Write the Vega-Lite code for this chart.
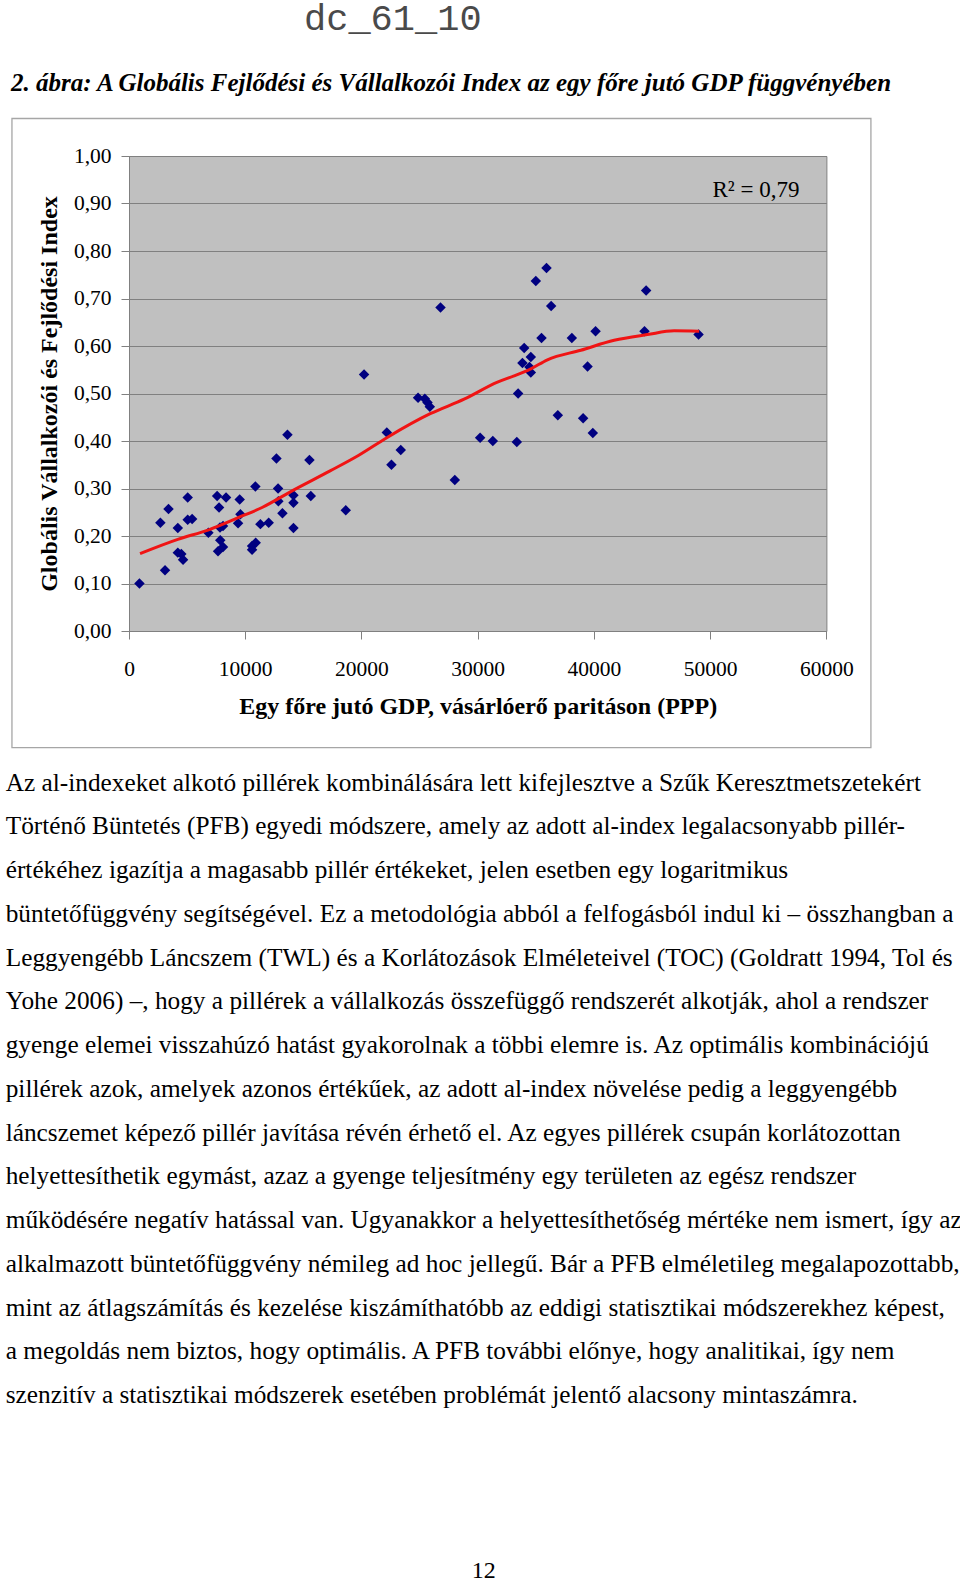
{
  "$schema": "https://vega.github.io/schema/vega-lite/v6.json",
  "background": "white",
  "padding": {"left": 5, "top": 0, "right": 0, "bottom": 0},
  "config": {
    "locale": {"number": {"decimal": ",", "thousands": " ", "grouping": [3], "currency": ["", " Ft"]}},
    "font": "Liberation Serif",
    "view": {"stroke": null}
  },
  "title": {
    "text": "dc_61_10", "font": "Liberation Mono", "fontSize": 37, "fontWeight": "normal",
    "color": "#4a4a4a", "anchor": "start", "frame": "group", "dx": 175, "offset": 3, "baseline": "alphabetic"
  },
  "columns": 1,
  "align": "none",
  "spacing": 21.5,
  "concat": [
    {
      "width": 697.4,
      "height": 475,
      "title": {
        "text": "2. ábra: A Globális Fejlődési és Vállalkozói Index az egy főre jutó GDP függvényében",
        "font": "Liberation Serif", "fontSize": 25, "fontStyle": "italic", "fontWeight": "bold",
        "color": "black", "anchor": "start", "frame": "group", "dx": -118, "offset": 2, "baseline": "alphabetic"
      },
      "view": {"fill": "#c0c0c0", "stroke": "#808080", "strokeWidth": 1},
      "layer": [
        {
          "data": {"values": [
            {"gdp": 900, "idx": 0.100}, {"gdp": 3100, "idx": 0.128}, {"gdp": 2700, "idx": 0.228},
            {"gdp": 3400, "idx": 0.257}, {"gdp": 4200, "idx": 0.217}, {"gdp": 5050, "idx": 0.281},
            {"gdp": 5050, "idx": 0.234}, {"gdp": 5430, "idx": 0.236}, {"gdp": 4200, "idx": 0.165},
            {"gdp": 4500, "idx": 0.162}, {"gdp": 4650, "idx": 0.150}, {"gdp": 6830, "idx": 0.207},
            {"gdp": 7580, "idx": 0.284}, {"gdp": 8350, "idx": 0.281}, {"gdp": 7750, "idx": 0.260},
            {"gdp": 7830, "idx": 0.218}, {"gdp": 8090, "idx": 0.221}, {"gdp": 7850, "idx": 0.191},
            {"gdp": 7660, "idx": 0.168}, {"gdp": 8090, "idx": 0.177}, {"gdp": 9525, "idx": 0.277},
            {"gdp": 9585, "idx": 0.246}, {"gdp": 9385, "idx": 0.227}, {"gdp": 10875, "idx": 0.304},
            {"gdp": 10590, "idx": 0.179}, {"gdp": 10900, "idx": 0.186}, {"gdp": 10590, "idx": 0.171},
            {"gdp": 11305, "idx": 0.225}, {"gdp": 12020, "idx": 0.228}, {"gdp": 12685, "idx": 0.363},
            {"gdp": 13630, "idx": 0.413}, {"gdp": 12825, "idx": 0.300}, {"gdp": 12850, "idx": 0.273},
            {"gdp": 13200, "idx": 0.248}, {"gdp": 14150, "idx": 0.286}, {"gdp": 14150, "idx": 0.270},
            {"gdp": 14150, "idx": 0.217}, {"gdp": 15525, "idx": 0.360}, {"gdp": 15640, "idx": 0.284},
            {"gdp": 18650, "idx": 0.254}, {"gdp": 20225, "idx": 0.540}, {"gdp": 22180, "idx": 0.418},
            {"gdp": 23380, "idx": 0.381}, {"gdp": 22580, "idx": 0.350}, {"gdp": 24870, "idx": 0.491},
            {"gdp": 25450, "idx": 0.489}, {"gdp": 25680, "idx": 0.481}, {"gdp": 25880, "idx": 0.472},
            {"gdp": 26800, "idx": 0.681}, {"gdp": 28030, "idx": 0.318}, {"gdp": 30210, "idx": 0.407},
            {"gdp": 31300, "idx": 0.400}, {"gdp": 33365, "idx": 0.398}, {"gdp": 33480, "idx": 0.500},
            {"gdp": 34000, "idx": 0.596}, {"gdp": 33850, "idx": 0.564}, {"gdp": 34570, "idx": 0.577},
            {"gdp": 34450, "idx": 0.556}, {"gdp": 34570, "idx": 0.544}, {"gdp": 35000, "idx": 0.737},
            {"gdp": 35920, "idx": 0.764}, {"gdp": 36320, "idx": 0.684}, {"gdp": 35490, "idx": 0.617},
            {"gdp": 38100, "idx": 0.617}, {"gdp": 40140, "idx": 0.631}, {"gdp": 39450, "idx": 0.557},
            {"gdp": 36895, "idx": 0.454}, {"gdp": 39070, "idx": 0.448}, {"gdp": 39905, "idx": 0.417},
            {"gdp": 44490, "idx": 0.717}, {"gdp": 44350, "idx": 0.631}, {"gdp": 49000, "idx": 0.624}
          ]},
          "mark": {"type": "point", "shape": "diamond", "filled": true, "size": 110, "color": "#000080", "opacity": 1},
          "encoding": {
            "x": {
              "field": "gdp", "type": "quantitative",
              "scale": {"domain": [0, 60000], "nice": false, "zero": false},
              "axis": {
                "values": [0, 10000, 20000, 30000, 40000, 50000, 60000], "format": "d",
                "grid": false, "tickSize": 8, "tickColor": "#808080", "domainColor": "#808080",
                "labelFont": "Liberation Serif", "labelFontSize": 21.5, "labelColor": "black",
                "labelPadding": 19, "labelFlush": false, "labelOverlap": false,
                "title": "Egy főre jutó GDP, vásárlóerő paritáson (PPP)",
                "titleFont": "Liberation Serif", "titleFontSize": 24, "titleFontWeight": "bold",
                "titleColor": "black", "titlePadding": 15
              }
            },
            "y": {
              "field": "idx", "type": "quantitative",
              "scale": {"domain": [0, 1], "nice": false, "zero": false},
              "axis": {
                "values": [0, 0.1, 0.2, 0.3, 0.4, 0.5, 0.6, 0.7, 0.8, 0.9, 1], "format": ".2f",
                "grid": true, "gridColor": "#808080", "gridWidth": 1, "gridOpacity": 1,
                "tickSize": 8, "tickColor": "#808080", "domainColor": "#808080",
                "labelFont": "Liberation Serif", "labelFontSize": 21.5, "labelColor": "black",
                "labelPadding": 10, "labelFlush": false, "labelOverlap": false,
                "title": "Globális Vállalkozói és Fejlődési Index",
                "titleFont": "Liberation Serif", "titleFontSize": 24, "titleFontWeight": "bold",
                "titleColor": "black", "titlePadding": 12
              }
            }
          }
        },
        {
          "data": {"values": [
            {"gdp": 950, "idx": 0.163}, {"gdp": 4200, "idx": 0.193}, {"gdp": 6860, "idx": 0.213},
            {"gdp": 9440, "idx": 0.239}, {"gdp": 11450, "idx": 0.260}, {"gdp": 14030, "idx": 0.295},
            {"gdp": 17300, "idx": 0.337}, {"gdp": 19770, "idx": 0.370}, {"gdp": 22180, "idx": 0.407},
            {"gdp": 25960, "idx": 0.458}, {"gdp": 28830, "idx": 0.488}, {"gdp": 31700, "idx": 0.524},
            {"gdp": 33130, "idx": 0.537}, {"gdp": 34570, "idx": 0.552}, {"gdp": 36000, "idx": 0.571},
            {"gdp": 38870, "idx": 0.591}, {"gdp": 41740, "idx": 0.612}, {"gdp": 44600, "idx": 0.624},
            {"gdp": 46900, "idx": 0.632}, {"gdp": 49050, "idx": 0.631}
          ]},
          "mark": {"type": "line", "color": "#f01414", "strokeWidth": 3, "interpolate": "monotone"},
          "encoding": {
            "x": {"field": "gdp", "type": "quantitative"},
            "y": {"field": "idx", "type": "quantitative"}
          }
        },
        {
          "data": {"values": [{}]},
          "mark": {"type": "text", "align": "left", "baseline": "alphabetic", "font": "Liberation Serif", "fontSize": 23, "color": "black"},
          "encoding": {
            "x": {"datum": 50200, "type": "quantitative"},
            "y": {"datum": 0.914, "type": "quantitative"},
            "text": {"value": "R² = 0,79"}
          }
        },
        {
          "data": {"values": [{}]},
          "mark": {"type": "rect", "fill": null, "stroke": "#a6a6a6", "strokeWidth": 1.3},
          "encoding": {
            "x": {"datum": -10070, "type": "quantitative"},
            "x2": {"datum": 63830},
            "y": {"datum": 1.079, "type": "quantitative"},
            "y2": {"datum": -0.2457}
          }
        }
      ]
    },
    {
      "width": 709.4,
      "height": 612.5,
      "title": {
        "text": "12", "orient": "bottom", "anchor": "middle", "frame": "group",
        "font": "Liberation Serif", "fontSize": 24, "fontWeight": "normal", "color": "black",
        "offset": 170, "baseline": "alphabetic"
      },
      "data": {"values": [
        {"i": 1, "t": "Az al-indexeket alkotó pillérek kombinálására lett kifejlesztve a Szűk Keresztmetszetekért"},
        {"i": 2, "t": "Történő Büntetés (PFB) egyedi módszere, amely az adott al-index legalacsonyabb pillér-"},
        {"i": 3, "t": "értékéhez igazítja a magasabb pillér értékeket, jelen esetben egy logaritmikus"},
        {"i": 4, "t": "büntetőfüggvény segítségével. Ez a metodológia abból a felfogásból indul ki – összhangban a"},
        {"i": 5, "t": "Leggyengébb Láncszem (TWL) és a Korlátozások Elméleteivel (TOC) (Goldratt 1994, Tol és"},
        {"i": 6, "t": "Yohe 2006) –, hogy a pillérek a vállalkozás összefüggő rendszerét alkotják, ahol a rendszer"},
        {"i": 7, "t": "gyenge elemei visszahúzó hatást gyakorolnak a többi elemre is. Az optimális kombinációjú"},
        {"i": 8, "t": "pillérek azok, amelyek azonos értékűek, az adott al-index növelése pedig a leggyengébb"},
        {"i": 9, "t": "láncszemet képező pillér javítása révén érhető el. Az egyes pillérek csupán korlátozottan"},
        {"i": 10, "t": "helyettesíthetik egymást, azaz a gyenge teljesítmény egy területen az egész rendszer"},
        {"i": 11, "t": "működésére negatív hatással van. Ugyanakkor a helyettesíthetőség mértéke nem ismert, így az"},
        {"i": 12, "t": "alkalmazott büntetőfüggvény némileg ad hoc jellegű. Bár a PFB elméletileg megalapozottabb,"},
        {"i": 13, "t": "mint az átlagszámítás és kezelése kiszámíthatóbb az eddigi statisztikai módszerekhez képest,"},
        {"i": 14, "t": "a megoldás nem biztos, hogy optimális. A PFB további előnye, hogy analitikai, így nem"},
        {"i": 15, "t": "szenzitív a statisztikai módszerek esetében problémát jelentő alacsony mintaszámra."}
      ]},
      "mark": {"type": "text", "align": "left", "baseline": "middle", "font": "Liberation Serif", "fontSize": 25.3, "color": "black", "dx": -123.3},
      "encoding": {
        "y": {"field": "i", "type": "ordinal", "axis": null, "scale": {"type": "point", "padding": 0}},
        "x": {"value": 0},
        "text": {"field": "t"}
      }
    }
  ]
}
